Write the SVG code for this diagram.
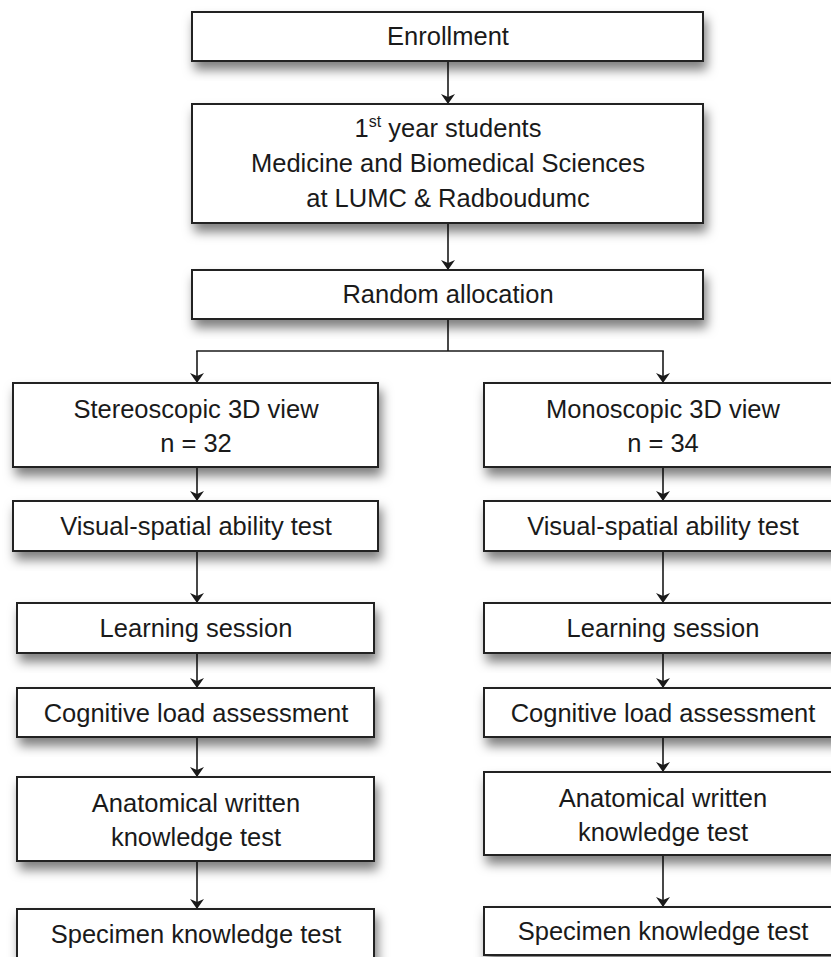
<svg xmlns="http://www.w3.org/2000/svg" width="831" height="957" viewBox="0 0 831 957">
<defs>
<filter id="sh" x="-10%" y="-20%" width="125%" height="160%">
<feDropShadow dx="3" dy="8" stdDeviation="5.5" flood-color="#000" flood-opacity="0.5"/>
</filter>
<marker id="ah" viewBox="0 0 10 14" refX="10" refY="7" markerWidth="10" markerHeight="14" markerUnits="userSpaceOnUse" orient="auto">
<path d="M0,0 L10,7 L0,14 L3,7 Z" fill="#1a1a1a"/>
</marker>
<style>
.box{fill:#fff;stroke:#222;stroke-width:2;filter:url(#sh)}
.t{font-family:"Liberation Sans",Arial,sans-serif;font-size:25.5px;fill:#1a1a1a;text-anchor:middle}
.c{fill:none;stroke:#1a1a1a;stroke-width:1.6}
.a{marker-end:url(#ah)}
</style>
</defs>
<rect width="831" height="957" fill="#fff"/>
<g id="connectors">
<line class="c a" x1="448" y1="62" x2="448" y2="104"/>
<line class="c a" x1="448" y1="224" x2="448" y2="270"/>
<line class="c" x1="448" y1="320" x2="448" y2="351"/>
<line class="c" x1="196.2" y1="351" x2="663.8" y2="351"/>
<line class="c a" x1="197" y1="351" x2="197" y2="383"/>
<line class="c a" x1="663" y1="351" x2="663" y2="383"/>
<line class="c a" x1="197" y1="468" x2="197" y2="501"/>
<line class="c a" x1="197" y1="552" x2="197" y2="603"/>
<line class="c a" x1="197" y1="654" x2="197" y2="688"/>
<line class="c a" x1="197" y1="738" x2="197" y2="777"/>
<line class="c a" x1="197" y1="862" x2="197" y2="909"/>
<line class="c a" x1="663" y1="468" x2="663" y2="501"/>
<line class="c a" x1="663" y1="552" x2="663" y2="603"/>
<line class="c a" x1="663" y1="654" x2="663" y2="688"/>
<line class="c a" x1="663" y1="738" x2="663" y2="772"/>
<line class="c a" x1="663" y1="856" x2="663" y2="907"/>
</g>
<g id="enrollment"><rect class="box" x="192" y="12" width="511" height="49"/><text class="t" x="448" y="45">Enrollment</text></g>
<g id="students"><rect class="box" x="192" y="104" width="511" height="119"/>
<text class="t" x="448" y="137">1<tspan font-size="16" dy="-10">st</tspan><tspan dy="10"> year students</tspan></text>
<text class="t" x="448" y="172">Medicine and Biomedical Sciences</text>
<text class="t" x="448" y="207">at LUMC &amp; Radboudumc</text></g>
<g id="random"><rect class="box" x="192" y="270" width="511" height="49"/><text class="t" x="448" y="303">Random allocation</text></g>
<g id="stereo"><rect class="box" x="13" y="383" width="365" height="84"/><text class="t" x="196" y="418">Stereoscopic 3D view</text><text class="t" x="196" y="452">n = 32</text></g>
<g id="mono"><rect class="box" x="484" y="383" width="359" height="84"/><text class="t" x="663" y="418">Monoscopic 3D view</text><text class="t" x="663" y="452">n = 34</text></g>
<g id="vs-left"><rect class="box" x="13" y="501" width="365" height="50"/><text class="t" x="196" y="535">Visual-spatial ability test</text></g>
<g id="vs-right"><rect class="box" x="484" y="501" width="359" height="50"/><text class="t" x="663" y="535">Visual-spatial ability test</text></g>
<g id="ls-left"><rect class="box" x="17" y="603" width="357" height="50"/><text class="t" x="196" y="637">Learning session</text></g>
<g id="ls-right"><rect class="box" x="484" y="603" width="359" height="50"/><text class="t" x="663" y="637">Learning session</text></g>
<g id="cl-left"><rect class="box" x="17" y="688" width="357" height="49"/><text class="t" x="196" y="722">Cognitive load assessment</text></g>
<g id="cl-right"><rect class="box" x="484" y="688" width="359" height="49"/><text class="t" x="663" y="722">Cognitive load assessment</text></g>
<g id="aw-left"><rect class="box" x="17" y="777" width="357" height="84"/><text class="t" x="196" y="812">Anatomical written</text><text class="t" x="196" y="846">knowledge test</text></g>
<g id="aw-right"><rect class="box" x="484" y="772" width="359" height="83"/><text class="t" x="663" y="807">Anatomical written</text><text class="t" x="663" y="841">knowledge test</text></g>
<g id="sp-left"><rect class="box" x="17" y="909" width="357" height="60"/><text class="t" x="196" y="943">Specimen knowledge test</text></g>
<g id="sp-right"><rect class="box" x="484" y="907" width="359" height="48"/><text class="t" x="663" y="940">Specimen knowledge test</text></g>
</svg>
